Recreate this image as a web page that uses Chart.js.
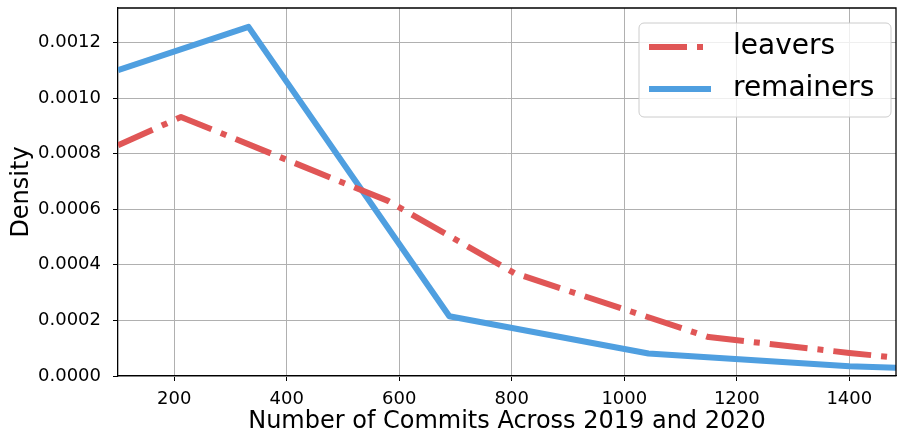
<!DOCTYPE html>
<html>
<head>
<meta charset="utf-8">
<script src="https://cdn.jsdelivr.net/npm/chart.js@4/dist/chart.umd.min.js"></script>
<style>
  html, body { margin: 0; padding: 0; background: #fff; }
  canvas { display: block; }
</style>
</head>
<body>
<canvas id="grafico" width="897" height="436"></canvas>
<script>
// values
const leaversX = [100, 212, 580, 805, 1150, 1400, 1483];
const leaversY = [0.00083, 0.000932, 0.00063, 0.00037, 0.00014, 0.000083, 0.000066];
const remainersX = [100, 332, 689, 1043, 1400, 1483];
const remainersY = [0.00110, 0.001256, 0.000215, 0.000081, 0.000035, 0.000030];
const xTicks = [200, 400, 600, 800, 1000, 1200, 1400];
const yTicks = [0, 0.0002, 0.0004, 0.0006, 0.0008, 0.0010, 0.0012];
const seriesNames = ['leavers', 'remainers'];

const FONT = "'DejaVu Sans', sans-serif";

function pairs(xs, ys) {
    return xs.map((x, i) => ({ x: x, y: ys[i] }));
}

// legend box inside the plot, plus the top and right spines
const frameAndLegend = {
    id: 'frameAndLegend',
    afterDraw(chart) {
        const ctx = chart.ctx;
        const a = chart.chartArea;
        ctx.save();
        ctx.strokeStyle = '#000';
        ctx.lineWidth = 1.3;
        ctx.beginPath();
        ctx.moveTo(a.left, a.top);
        ctx.lineTo(a.right, a.top);
        ctx.lineTo(a.right, a.bottom);
        ctx.stroke();

        const w = 252, h = 94;
        const x0 = a.right - 5 - w, y0 = a.top + 15;
        ctx.beginPath();
        ctx.roundRect(x0, y0, w, h, 5);
        ctx.fillStyle = 'rgba(255,255,255,0.8)';
        ctx.fill();
        ctx.strokeStyle = '#cccccc';
        ctx.lineWidth = 1;
        ctx.stroke();

        chart.data.datasets.forEach((ds, i) => {
            const y = y0 + 24 + i * 42;
            ctx.beginPath();
            ctx.setLineDash(ds.borderDash || []);
            ctx.lineCap = 'butt';
            ctx.strokeStyle = ds.borderColor;
            ctx.lineWidth = ds.borderWidth;
            ctx.moveTo(x0 + 10, y);
            ctx.lineTo(x0 + 72, y);
            ctx.stroke();
            ctx.setLineDash([]);
            ctx.fillStyle = '#000';
            ctx.font = '28px ' + FONT;
            ctx.textBaseline = 'middle';
            ctx.fillText(ds.label, x0 + 94, y);
        });
        ctx.restore();
    }
};

const ctx = document.getElementById('grafico').getContext('2d');
new Chart(ctx, {
    type: 'line',
    data: {
        datasets: [{
            label: seriesNames[0],
            data: pairs(leaversX, leaversY),
            borderColor: '#e05656',
            borderWidth: 6,
            borderDash: [38, 10, 6, 10],
            borderJoinStyle: 'round',
            pointRadius: 0,
            tension: 0
        }, {
            label: seriesNames[1],
            data: pairs(remainersX, remainersY),
            borderColor: '#4f9fe0',
            borderWidth: 6,
            borderJoinStyle: 'round',
            pointRadius: 0,
            tension: 0
        }]
    },
    options: {
        responsive: false,
        animation: false,
        layout: { padding: { top: 8, right: 1, left: 0, bottom: 0 } },
        plugins: {
            legend: { display: false },
            tooltip: { enabled: false }
        },
        scales: {
            x: {
                type: 'linear',
                min: 100,
                max: 1483,
                afterBuildTicks: s => { s.ticks = xTicks.map(v => ({ value: v })); },
                afterFit: s => { s.height = 60; s.paddingLeft = 0; s.paddingRight = 0; },
                grid: { color: '#b0b0b0', lineWidth: 1, tickColor: '#000', tickLength: 5 },
                border: { color: '#000', width: 1.3 },
                ticks: {
                    color: '#000',
                    font: { family: FONT, size: 18 },
                    padding: 8,
                    maxRotation: 0,
                    callback: v => String(v)
                },
                title: {
                    display: true,
                    text: 'Number of Commits Across 2019 and 2020',
                    color: '#000',
                    font: { family: FONT, size: 24 },
                    padding: { top: 2, bottom: 0 }
                }
            },
            y: {
                min: 0,
                max: 0.001324,
                afterBuildTicks: s => { s.ticks = yTicks.map(v => ({ value: v })); },
                afterFit: s => { s.width = 118; s.paddingTop = 0; s.paddingBottom = 0; },
                grid: { color: '#b0b0b0', lineWidth: 1, tickColor: '#000', tickLength: 5 },
                border: { color: '#000', width: 1.3 },
                ticks: {
                    color: '#000',
                    font: { family: FONT, size: 18 },
                    padding: 12,
                    callback: v => v.toFixed(4)
                },
                title: {
                    display: true,
                    text: 'Density',
                    color: '#000',
                    font: { family: FONT, size: 24 },
                    padding: { top: 7, bottom: 0 }
                }
            }
        }
    },
    plugins: [frameAndLegend]
});
</script>
</body>
</html>
